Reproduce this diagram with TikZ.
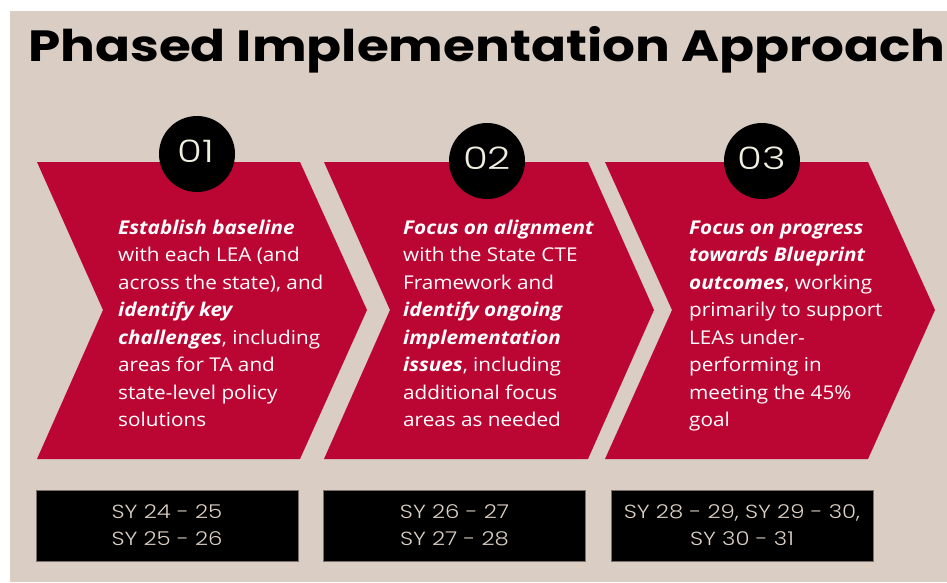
\documentclass[tikz,border=0pt]{standalone}
\usepackage{fontspec}
\setmainfont{Open Sans}[FakeStretch=1.09]
\newfontfamily\titlefont{Poppins}
\newfontfamily\numfont{Poppins Light}[FakeStretch=1.2]
\newfontfamily\digfont{Poppins Light}[FakeStretch=1.3]
\definecolor{bgbeige}{HTML}{DACDC3}
\definecolor{chevred}{HTML}{BB0533}
\definecolor{numcream}{HTML}{F0EEDF}
\definecolor{sytext}{HTML}{DCCFC4}
\definecolor{boxborder}{HTML}{7D7069}
\tikzset{
  chevron/.style={fill=chevred, draw=none},
  numcircle/.style={circle, fill=black, minimum size=76pt, inner sep=0pt},
  numtext/.style={inner sep=0pt, text=numcream, font=\digfont\fontsize{31}{31}\selectfont},
  bodytext/.style={anchor=base west, inner sep=0pt, text=white, font=\fontsize{19}{27.5}\selectfont},
  sybox/.style={draw=boxborder, line width=0.8pt, fill=black, minimum width=262pt, minimum height=71pt, inner sep=0pt, align=center, text=sytext, font=\numfont\fontsize{19}{27}\selectfont}
}
\begin{document}
\begin{tikzpicture}[x=1pt,y=-1pt]
\useasboundingbox (0,0) rectangle (947,582);
\fill[white] (0,0) rectangle (947,582);
\fill[bgbeige] (10,11) rectangle (947,582);

% title
\node[anchor=base west, inner sep=0pt, text=black] (title) at (28,61)
  {\resizebox{917pt}{35pt}{\titlefont\bfseries Phased Implementation Approach}};

% chevrons
\fill[chevron] (37,162) -- (300,162) -- (367,310) -- (300,459) -- (37,459) -- (103,310) -- cycle;
\fill[chevron] (324,162) -- (588,162) -- (654,310) -- (588,459) -- (324,459) -- (390,310) -- cycle;
\fill[chevron] (605,162) -- (868,162) -- (935,310) -- (868,459) -- (605,459) -- (672,310) -- cycle;

% number circles
\node[numcircle] (c1) at (197,154) {};
\node[numcircle] (c2) at (487,161) {};
\node[numcircle] (c3) at (762,161) {};
\node[numtext] (n1) at (196,151) {01};
\node[numtext] (n2) at (487,158) {02};
\node[numtext] (n3) at (762,158) {03};

% body texts
\node[bodytext] (t1) at (118,234) {\parbox[t]{280pt}{\raggedright
\textbf{\textit{Establish baseline}}\\
with each LEA (and\\
across the state), and\\
\textbf{\textit{identify key}}\\
\textbf{\textit{challenges}}, including\\
areas for TA and\\
state-level policy\\
solutions}};
\node[bodytext] (t2) at (403,234) {\parbox[t]{280pt}{\raggedright
\textbf{\textit{Focus on alignment}}\\
with the State CTE\\
Framework and\\
\textbf{\textit{identify ongoing}}\\
\textbf{\textit{implementation}}\\
\textbf{\textit{issues}}, including\\
additional focus\\
areas as needed}};
\node[bodytext] (t3) at (689,234) {\parbox[t]{280pt}{\raggedright
\textbf{\textit{Focus on progress}}\\
\textbf{\textit{towards Blueprint}}\\
\textbf{\textit{outcomes}}, working\\
primarily to support\\
LEAs under-\\
performing in\\
meeting the 45\%\\
goal}};

% school-year boxes
\node[sybox] (s1) at (167,525.5) {SY 24 - 25\\SY 25 - 26};
\node[sybox] (s2) at (454.5,525.5) {SY 26 - 27\\SY 27 - 28};
\node[sybox] (s3) at (742,525.5) {SY 28 - 29, SY 29 - 30,\\SY 30 - 31};
\end{tikzpicture}
\end{document}
